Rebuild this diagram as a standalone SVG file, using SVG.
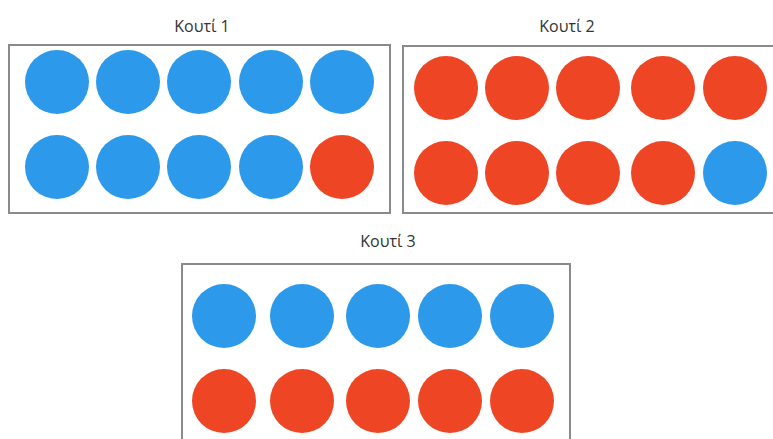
<svg xmlns="http://www.w3.org/2000/svg" width="773" height="439" viewBox="0 0 773 439">
<style>
.box{fill:#fff;stroke:#8a8a8a;stroke-width:2}
.b{fill:#2c99ea}
.r{fill:#ee4524}
.lbl{font-family:"Open Sans","Noto Sans",sans-serif;font-size:16px;fill:#333;text-anchor:middle}
</style>
<rect width="773" height="439" fill="#fff"/>
<g id="box1">
<text class="lbl" x="202" y="32">Κουτί 1</text>
<rect class="box" x="9" y="45" width="381" height="168"/>
<circle class="b" cx="57" cy="82" r="32"/>
<circle class="b" cx="128" cy="82" r="32"/>
<circle class="b" cx="199" cy="82" r="32"/>
<circle class="b" cx="271" cy="82" r="32"/>
<circle class="b" cx="342" cy="82" r="32"/>
<circle class="b" cx="57" cy="167" r="32"/>
<circle class="b" cx="128" cy="167" r="32"/>
<circle class="b" cx="199" cy="167" r="32"/>
<circle class="b" cx="271" cy="167" r="32"/>
<circle class="r" cx="342" cy="167" r="32"/>
</g>
<g id="box2">
<text class="lbl" x="567" y="32">Κουτί 2</text>
<rect class="box" x="403" y="46" width="372" height="167"/>
<circle class="r" cx="446" cy="88" r="32"/>
<circle class="r" cx="517" cy="88" r="32"/>
<circle class="r" cx="588" cy="88" r="32"/>
<circle class="r" cx="663" cy="88" r="32"/>
<circle class="r" cx="735" cy="88" r="32"/>
<circle class="r" cx="446" cy="173" r="32"/>
<circle class="r" cx="517" cy="173" r="32"/>
<circle class="r" cx="588" cy="173" r="32"/>
<circle class="r" cx="663" cy="173" r="32"/>
<circle class="b" cx="735" cy="173" r="32"/>
</g>
<g id="box3">
<text class="lbl" x="388" y="247">Κουτί 3</text>
<rect class="box" x="182" y="264" width="388" height="180"/>
<circle class="b" cx="224" cy="316" r="32"/>
<circle class="b" cx="302" cy="316" r="32"/>
<circle class="b" cx="378" cy="316" r="32"/>
<circle class="b" cx="450" cy="316" r="32"/>
<circle class="b" cx="522" cy="316" r="32"/>
<circle class="r" cx="224" cy="401" r="32"/>
<circle class="r" cx="302" cy="401" r="32"/>
<circle class="r" cx="378" cy="401" r="32"/>
<circle class="r" cx="450" cy="401" r="32"/>
<circle class="r" cx="522" cy="401" r="32"/>
</g>
<g id="connectors"/>
</svg>
